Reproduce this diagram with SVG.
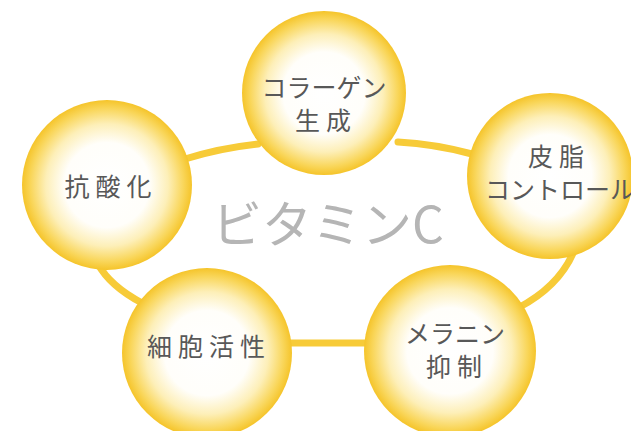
<svg xmlns="http://www.w3.org/2000/svg" width="631" height="431" viewBox="0 0 631 431">
  <defs>
    <radialGradient id="ball" cx="0.5" cy="0.5" r="0.5">
      <stop offset="0" stop-color="#ffffff"/>
      <stop offset="0.5" stop-color="#fffefa"/>
      <stop offset="0.72" stop-color="#fdefb8"/>
      <stop offset="0.9" stop-color="#f9d65a"/>
      <stop offset="1" stop-color="#f5c42a"/>
    </radialGradient>
  </defs>
  <style>
    .link { fill: none; stroke: #f7cb38; stroke-width: 7; stroke-linecap: round; }
    .ball { fill: url(#ball); }
    .lbl { font-family: "Noto Sans CJK JP", "Noto Sans", sans-serif; font-size: 25px; fill: #585858; text-anchor: middle; }
    .kan { letter-spacing: 6px; }
    .title { font-family: "Noto Sans CJK JP", "Noto Sans", sans-serif; font-size: 50px; fill: #b5b5b5; text-anchor: middle; }
  </style>
  <rect width="631" height="431" fill="#ffffff"/>
  <g id="connectors">
    <path class="link" d="M185,159 Q220,148 258,144"/>
    <path class="link" d="M398,142 Q435,144 472,154"/>
    <path class="link" d="M576,246 Q562,285 518,308"/>
    <path class="link" d="M285,343 L372,343"/>
    <path class="link" d="M98,264 Q110,286 142,303"/>
  </g>
  <text class="title" x="328" y="243">ビタミンC</text>
  <g id="collagen">
    <circle class="ball" cx="324" cy="93" r="82"/>
    <text class="lbl" x="324" y="97">コラーゲン</text>
    <text class="lbl kan" x="326" y="130">生成</text>
  </g>
  <g id="sebum">
    <circle class="ball" cx="550" cy="176" r="83"/>
    <text class="lbl kan" x="559" y="166">皮脂</text>
    <text class="lbl" x="560" y="199">コントロール</text>
  </g>
  <g id="antioxidant">
    <circle class="ball" cx="107" cy="185" r="85"/>
    <text class="lbl kan" x="111" y="196">抗酸化</text>
  </g>
  <g id="cell">
    <circle class="ball" cx="207" cy="353" r="85"/>
    <text class="lbl kan" x="209" y="356">細胞活性</text>
  </g>
  <g id="melanin">
    <circle class="ball" cx="450" cy="351" r="86"/>
    <text class="lbl" x="455" y="343">メラニン</text>
    <text class="lbl kan" x="457" y="376">抑制</text>
  </g>
</svg>
